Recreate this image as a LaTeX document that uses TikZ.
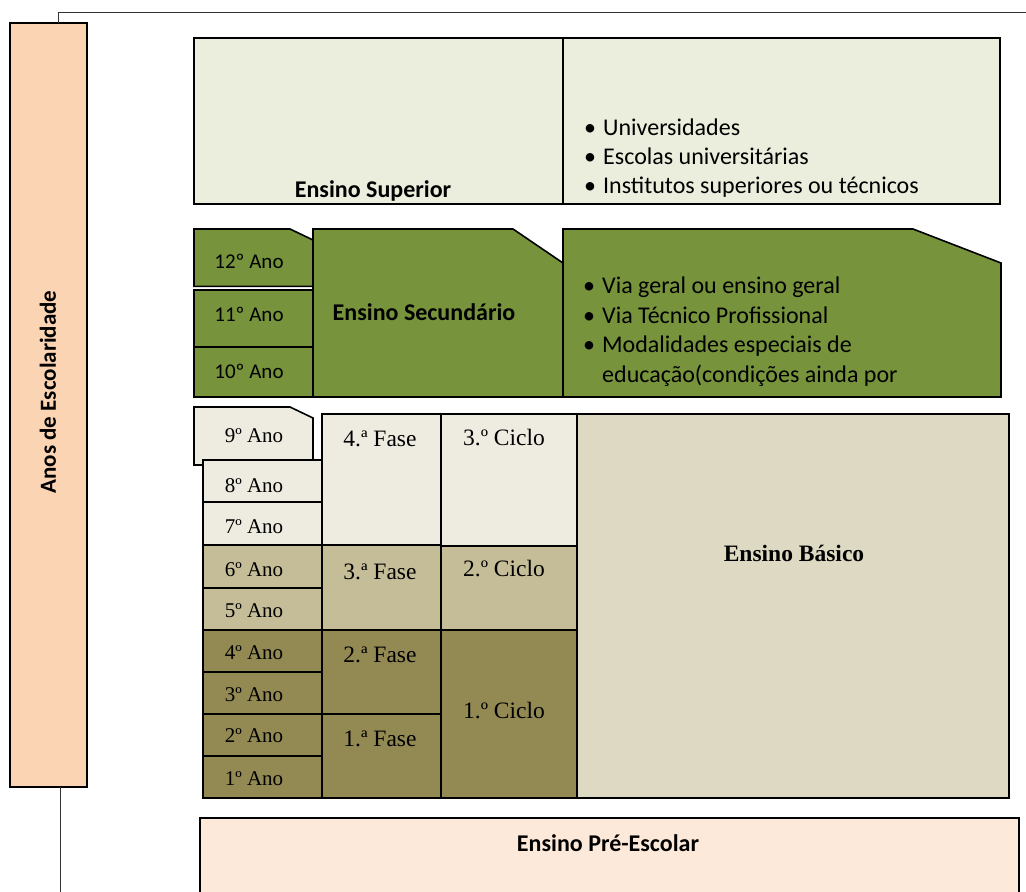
\documentclass[tikz,border=0pt]{standalone}
\usepackage{fontspec}
\setmainfont{Carlito}
\newfontfamily\tms{Liberation Serif}
\definecolor{supc}{HTML}{EBEEDD}
\definecolor{secc}{HTML}{77933C}
\definecolor{cseven}{HTML}{EEECE1}
\definecolor{cfive}{HTML}{C4BD97}
\definecolor{cone}{HTML}{938953}
\definecolor{basc}{HTML}{DDD9C3}
\definecolor{anosc}{HTML}{FBD4B4}
\definecolor{prec}{HTML}{FDE9D9}
\newcommand{\mkbox}[6]{%
  \node[box, fill=#2, minimum width={#5-#3}, minimum height={#6-#4}] (#1) at ({(#3+#5)/2},{(#4+#6)/2}) {};}
\tikzset{
  box/.style={draw=black, line width=1.6pt, inner sep=0pt, outer sep=0pt, anchor=center},
  shp/.style={draw=black, line width=1.6pt, line join=miter},
  lbl/.style={inner sep=0pt, anchor=base},
  lbll/.style={inner sep=0pt, anchor=base west},
  sansb/.style={font=\fontsize{24}{28}\selectfont\bfseries},
  sansn/.style={font=\fontsize{24}{29}\selectfont},
  sanss/.style={font=\fontsize{21}{24}\selectfont},
  serif/.style={font=\tms\fontsize{21}{24}\selectfont},
  serifl/.style={font=\tms\fontsize{23.5}{26}\selectfont},
  serifb/.style={font=\tms\fontsize{23.5}{26}\selectfont\bfseries},
  conn/.style={draw=black!80, line width=0.9pt}
}
\begin{document}
\begin{tikzpicture}[x=1pt,y=-1pt]
\useasboundingbox (0,0) rectangle (1026,892);
\clip (0,0) rectangle (1026,892);

% left axis box
\mkbox{anos}{anosc}{10}{23}{87}{787}
\node[font=\fontsize{23}{28}\selectfont\bfseries, rotate=90, inner sep=0pt] (anost) at (48,392) {Anos de Escolaridade};
\coordinate (ctop) at (1030,12);
\coordinate (cbot) at (60,900);
\draw[conn] (anos.north -| 58,0) -- (58,12) -- (ctop);
\draw[conn] (anos.south -| cbot) -- (cbot);

% Ensino Superior
\mkbox{supl}{supc}{194}{38}{563}{204}
\mkbox{supr}{supc}{563}{38}{1000}{204}
\node[lbl, sansb] (supt) at (373,197) {Ensino Superior};
\node[lbll, sansn] (sb1) at (584,135) {\makebox[19pt][l]{\textbullet}Universidades};
\node[lbll, sansn] (sb2) at (584,164) {\makebox[19pt][l]{\textbullet}Escolas universitárias};
\node[lbll, sansn] (sb3) at (584,193) {\makebox[19pt][l]{\textbullet}Institutos superiores ou técnicos};

% Ensino Secundario
\draw[shp, fill=secc] (194,229) -- (290,229) -- (313,240) -- (313,286.3) -- (194,286.3) -- cycle;
\mkbox{a11}{secc}{194}{289.7}{313}{347}
\mkbox{a10}{secc}{194}{347}{313}{397}
\draw[shp, fill=secc] (313,229) -- (513,229) -- (563,263) -- (563,397) -- (313,397) -- cycle;
\draw[shp, fill=secc] (563,229) -- (913,229) -- (1001,263) -- (1001,397) -- (563,397) -- cycle;
\node[lbl, sanss] (t12) at (249,268) {12º Ano};
\node[lbl, sanss] (t11) at (249,321) {11º Ano};
\node[lbl, sanss] (t10) at (249,378) {10º Ano};
\node[lbl, sansb] (sect) at (424,320) {Ensino Secundário};
\node[lbll, sansn] (vb1) at (583,293) {\makebox[19pt][l]{\textbullet}Via geral ou ensino geral};
\node[lbll, sansn] (vb2) at (583,323) {\makebox[19pt][l]{\textbullet}Via Técnico Profissional};
\node[lbll, sansn] (vb3) at (583,352) {\makebox[19pt][l]{\textbullet}Modalidades especiais de};
\node[lbll, sansn] (vb4) at (583,382) {\makebox[19pt][l]{}educação(condições ainda por};

% Ensino Basico
\draw[shp, fill=cseven] (194,407) -- (290,407) -- (313,418) -- (313,465) -- (194,465) -- cycle;
\mkbox{a8}{cseven}{203}{460}{322}{502}
\mkbox{a7}{cseven}{203}{502}{322}{545}
\mkbox{f4}{cseven}{322}{414}{441}{545}
\mkbox{c3}{cseven}{441}{414}{577}{546}
\mkbox{bas}{basc}{577}{414}{1009}{798}
\mkbox{a6}{cfive}{203}{545}{322}{588}
\mkbox{a5}{cfive}{203}{588}{322}{630}
\mkbox{f3}{cfive}{322}{545}{441}{630}
\mkbox{c2}{cfive}{441}{546}{577}{630}
\mkbox{a4}{cone}{203}{630}{322}{672}
\mkbox{a3}{cone}{203}{672}{322}{714}
\mkbox{a2}{cone}{203}{714}{322}{756}
\mkbox{a1}{cone}{203}{756}{322}{798}
\mkbox{f2}{cone}{322}{630}{441}{714}
\mkbox{f1}{cone}{322}{714}{441}{798}
\mkbox{c1}{cone}{441}{630}{577}{798}
\draw[line width=2.2pt] (203,798) -- (1009,798) -- (1009,414) -- (322,414);

\node[lbl, serif] (t9) at (254,442) {9º Ano};
\node[lbl, serif] (t8) at (254,492) {8º Ano};
\node[lbl, serif] (t7) at (254,533) {7º Ano};
\node[lbl, serif] (t6) at (254,576) {6º Ano};
\node[lbl, serif] (t5) at (254,617) {5º Ano};
\node[lbl, serif] (t4) at (254,659) {4º Ano};
\node[lbl, serif] (t3) at (254,701) {3º Ano};
\node[lbl, serif] (t2) at (254,742) {2º Ano};
\node[lbl, serif] (t1) at (254,785) {1º Ano};
\node[lbl, serifl] (tf4) at (380,446) {4.ª Fase};
\node[lbl, serifl] (tf3) at (380,579) {3.ª Fase};
\node[lbl, serifl] (tf2) at (380,662) {2.ª Fase};
\node[lbl, serifl] (tf1) at (380,746) {1.ª Fase};
\node[lbl, serifl] (tc3) at (504,445) {3.º Ciclo};
\node[lbl, serifl] (tc2) at (504,576) {2.º Ciclo};
\node[lbl, serifl] (tc1) at (504,718) {1.º Ciclo};
\node[lbl, serifb] (bast) at (794,561) {Ensino Básico};

% Ensino Pre-Escolar
\mkbox{pre}{prec}{200}{818}{1019}{910}
\node[lbl, sansb] (pret) at (608,851) {Ensino Pré-Escolar};
\end{tikzpicture}
\end{document}
